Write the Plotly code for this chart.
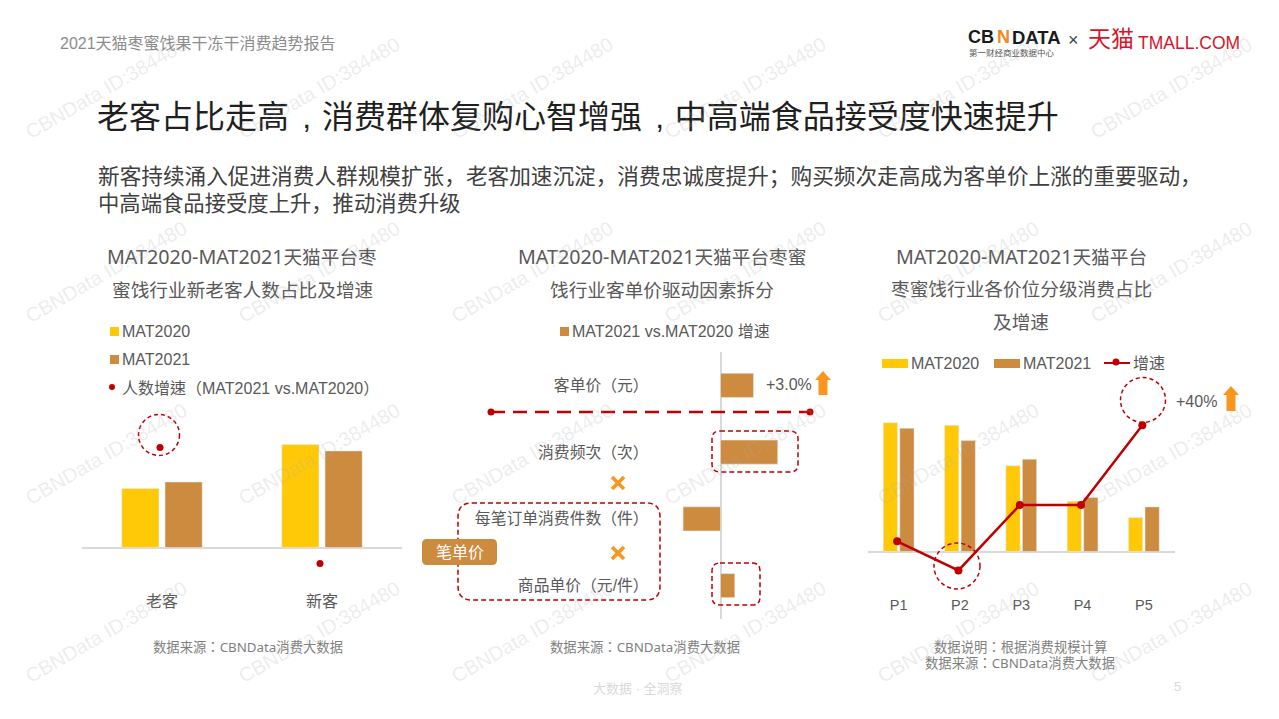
import plotly.graph_objects as go

# page offset: browser default body margin
OFF = 8
W = 1263
H = 703
CN = "Liberation Sans, Noto Sans CJK SC, sans-serif"
TC = "Liberation Sans, Noto Sans CJK TC, sans-serif"
SOFT = "Noto Sans, Noto Sans CJK SC, sans-serif"
SOFT_TC = "Noto Sans, Noto Sans CJK TC, sans-serif"
YELLOW = "#FFC907"
BROWN = "#CD8B3F"
RED = "#C00000"
ORANGE = "#F9961E"
GRAY = "#595959"

# chart 1
c1_cats = ["老客", "新客"]
c1_2020 = [36.4, 63.6]
c1_2021 = [40.4, 59.6]
c1_growth = [60, -10]

# chart 2
c2_cats = ["客单价（元）", "消费频次（次）", "每笔订单消费件数（件）", "商品单价（元/件）"]
c2_growth = [3.0, 5.2, -3.4, 1.3]

# chart 3
c3_cats = ["P1", "P2", "P3", "P4", "P5"]
c3_2020 = [30.3, 29.7, 20.2, 11.8, 8.0]
c3_2021 = [29.0, 26.1, 21.7, 12.7, 10.5]
c3_growth = [-8, -20, 7, 7, 40]

title_text = "老客占比走高\u2004\u200a,\u2004消费群体复购心智增强\u2004\u200a,\u2004中高端食品接受度快速提升"
sub_lines = ["新客持续涌入促进消费人群规模扩张，老客加速沉淀，消费忠诚度提升；购买频次走高成为客单价上涨的重要驱动，",
             "中高端食品接受度上升，推动消费升级"]


def fx(x):
    return (x - OFF) / W


def fy(y):
    return 1 - (y - OFF) / H


def yrange(top, bottom, zero, k):
    return [(zero - bottom) / k, (zero - top) / k]


def mat(s):
    # latin part of the chart titles runs a little larger than the chinese
    return f'<span style="font-size:19.7px">MAT2020-MAT2021</span>{s}'


annos = []
shapes = []


def text(x, y, s, size=16, color=GRAY, anchor="left", **kw):
    annos.append(dict(x=fx(x), y=fy(y), xref="paper", yref="paper", text=s, showarrow=False,
                      xanchor=anchor, yanchor="middle", font=dict(size=size, color=color, family=kw.pop("family", CN)),
                      borderpad=0, **kw))


def rect(x0, y0, x1, y1, color):
    shapes.append(dict(type="rect", xref="paper", yref="paper", x0=fx(x0), x1=fx(x1), y0=fy(y0), y1=fy(y1),
                       fillcolor=color, line=dict(width=0)))


def seg(x0, y0, x1, y1, color, width=2, dash="solid"):
    shapes.append(dict(type="line", xref="paper", yref="paper", x0=fx(x0), x1=fx(x1), y0=fy(y0), y1=fy(y1),
                       line=dict(color=color, width=width, dash=dash)))


def circle(cx, cy, r, fill=None, dash="solid", width=1.5):
    s = dict(type="circle", xref="paper", yref="paper", x0=fx(cx - r), x1=fx(cx + r), y0=fy(cy + r), y1=fy(cy - r),
             line=dict(color=RED, width=width, dash=dash))
    if fill:
        s["fillcolor"] = fill
        s["line"] = dict(width=0)
    shapes.append(s)


def round_box(x0, y0, x1, y1, r, fill=None):
    a0, a1 = fx(x0), fx(x1)
    b0, b1 = fy(y0), fy(y1)
    rx, ry = r / W, r / H
    p = (f"M {a0+rx} {b0} L {a1-rx} {b0} Q {a1} {b0} {a1} {b0-ry} L {a1} {b1+ry} Q {a1} {b1} {a1-rx} {b1} "
         f"L {a0+rx} {b1} Q {a0} {b1} {a0} {b1+ry} L {a0} {b0-ry} Q {a0} {b0} {a0+rx} {b0} Z")
    s = dict(type="path", xref="paper", yref="paper", path=p)
    if fill:
        s["fillcolor"] = fill
        s["line"] = dict(width=0)
    else:
        s["line"] = dict(color=RED, width=1.5, dash="5px,3px")
    shapes.append(s)


def up_arrow(cx, top, bottom, color=ORANGE):
    xs = [cx - 8, cx, cx + 8, cx + 4.5, cx + 4.5, cx - 4.5, cx - 4.5]
    ys = [top + 9, top, top + 9, top + 9, bottom, bottom, top + 9]
    p = "M " + " L ".join(f"{fx(a)} {fy(b)}" for a, b in zip(xs, ys)) + " Z"
    shapes.append(dict(type="path", xref="paper", yref="paper", path=p, fillcolor=color, line=dict(width=0)))


fig = go.Figure()

# chart 1 bars + dots
fig.add_trace(go.Bar(x=c1_cats, y=c1_2020, marker_color=YELLOW, name="MAT2020", xaxis="x", yaxis="y"))
fig.add_trace(go.Bar(x=c1_cats, y=c1_2021, marker_color=BROWN, name="MAT2021", xaxis="x", yaxis="y"))
fig.add_trace(go.Scatter(x=c1_cats, y=c1_growth, mode="markers", marker=dict(color=RED, size=7),
                         name="人数增速", xaxis="x2", yaxis="y2"))

# chart 2 bars
fig.add_trace(go.Bar(y=c2_cats, x=c2_growth, orientation="h", marker_color=BROWN, width=0.36,
                     name="增速", xaxis="x3", yaxis="y3"))

# chart 3 bars + line
fig.add_trace(go.Bar(x=c3_cats, y=c3_2020, marker_color=YELLOW, name="MAT2020", xaxis="x4", yaxis="y4"))
fig.add_trace(go.Bar(x=c3_cats, y=c3_2021, marker_color=BROWN, name="MAT2021", xaxis="x4", yaxis="y4"))
fig.add_trace(go.Scatter(x=c3_cats, y=c3_growth, mode="lines+markers", line=dict(color=RED, width=2.5),
                         marker=dict(color=RED, size=8), name="增速", xaxis="x5", yaxis="y5"))

# header
text(59, 43, "2021天猫枣蜜饯果干冻干消费趋势报告", 16, "#8C8C8C")
text(96, 117, title_text, 32, "#1F1F1F")
text(97, 176, sub_lines[0], 21.65, "#404040")
text(97, 204, sub_lines[1], 21.33, "#404040")

# logo
text(967, 37, "<b>CB</b>", 18, "#1A1A1A")
text(996, 37, "<b>N</b>", 18, "#F08A24")
text(1011, 37, "<b>DATA</b>", 18.5, "#1A1A1A")
text(968, 53, "第一财经商业数据中心", 8.5, "#555555")
text(1067, 40, "×", 18, "#444444")
text(1087, 39, "天猫", 23, "#D7142A")
text(1137, 43, "TMALL.COM", 17.5, "#D7142A")

# chart titles
text(242, 257, mat("天猫平台枣"), 18.67, GRAY, "center", family=SOFT)
text(242, 289, "蜜饯行业新老客人数占比及增速", 18.67, GRAY, "center", family=SOFT)
text(662, 257, mat("天猫平台枣蜜"), 18.67, GRAY, "center", family=SOFT)
text(662, 289, "饯行业客单价驱动因素拆分", 18.67, GRAY, "center", family=SOFT)
text(1021, 257, mat("天猫平台"), 18.67, GRAY, "center", family=SOFT)
text(1021, 288, "枣蜜饯行业各价位分级消费占比", 18.67, GRAY, "center", family=SOFT)
text(1021, 321, "及增速", 18.67, GRAY, "center", family=SOFT)

# legends
rect(110, 327, 119, 336, YELLOW)
text(120.5, 331, "MAT2020")
rect(110, 355, 119, 364, BROWN)
text(120.5, 359, "MAT2021")
circle(112, 387, 3, fill=RED)
text(120.5, 388, "人数增速（MAT2021 vs.MAT2020）\u00a0", family=TC)

rect(560, 327, 569, 336, BROWN)
text(570.5, 331, "MAT2021 vs.MAT2020 增速")

rect(882, 359, 908, 368, YELLOW)
text(909.5, 363, "MAT2020")
rect(994, 359, 1020, 368, BROWN)
text(1021.5, 363, "MAT2021")
seg(1104, 363, 1130, 363, RED, 2)
circle(1116, 362, 3.5, fill=RED)
text(1132, 363, "增速")

# chart 1 / 3 callouts
circle(159, 435, 20.5, dash="4px,3px")
circle(1143, 400, 22.5, dash="4px,3px")
circle(957, 566, 23, dash="4px,3px")
text(1175, 401, "+40%", 16)
up_arrow(1231, 386, 411)

# chart 2 callouts
seg(491, 412, 810, 412, RED, 2.5, "14px,8px")
circle(491, 412, 3.5, fill=RED)
circle(810, 412, 3.5, fill=RED)
text(765, 385, "+3.0%", 16)
up_arrow(823, 371, 395)
round_box(712, 431, 798, 472, 8)
round_box(458, 503, 660, 600, 14)
round_box(712, 563, 760, 605, 8)
round_box(422, 539, 497, 565, 5, fill=BROWN)
text(459.5, 552, "笔单价", 16, "white", "center")
for cy in [483, 553]:
    seg(612, cy - 6, 624, cy + 6, ORANGE, 3.5)
    seg(612, cy + 6, 624, cy - 6, ORANGE, 3.5)

# footers
text(248, 647, "数据来源：CBNData消费大数据", 13.33, "#7F7F7F", "center", family=SOFT_TC)
text(645, 647, "数据来源：CBNData消费大数据", 13.33, "#7F7F7F", "center", family=SOFT_TC)
text(1020, 647, "数据说明：根据消费规模计算", 13.33, "#7F7F7F", "center", family=SOFT_TC)
text(1020, 663, "数据来源：CBNData消费大数据", 13.33, "#7F7F7F", "center", family=SOFT_TC)
text(638, 688, "大数据 · 全洞察", 13, "#D9D9D9", "center")
text(1177, 686, "5", 13, "#D9D9D9", "center")

# watermark grid
for col in range(6):
    for row_y in [88, 272, 454, 632]:
        text(106 + col * 213, row_y, "CBNData ID:384480", 20, "rgba(170,170,170,0.22)", "center",
             textangle=-30, family="Liberation Sans")

hidden = dict(showgrid=False, showline=False, showticklabels=False, ticks="", zeroline=False)

fig.update_layout(
    width=W, height=H, margin=dict(l=0, r=0, t=0, b=0), autosize=False,
    paper_bgcolor="white", plot_bgcolor="rgba(0,0,0,0)", showlegend=False,
    barmode="group", bargap=0.46, bargroupgap=0.14,
    font=dict(family=CN, color=GRAY),
    annotations=annos, shapes=shapes,
    xaxis=dict(domain=[fx(82), fx(402)], anchor="y", showgrid=False, zeroline=False, showline=False, ticks="",
               tickfont=dict(size=16, color=GRAY)),
    yaxis=dict(domain=[fy(590), fy(420)], range=yrange(420, 590, 547.5, 1.62), showgrid=False, showticklabels=False,
               zeroline=True, zerolinecolor="#D9D9D9", zerolinewidth=1.5),
    xaxis2=dict(domain=[fx(80), fx(400)], anchor="y2", range=[-0.5, 1.5], **hidden),
    yaxis2=dict(overlaying="y", anchor="x2", range=yrange(420, 590, 547, 1.66), **hidden),
    xaxis3=dict(domain=[fx(654), fx(815)], anchor="y3", range=[(654 - 720.5) / 11, (815 - 720.5) / 11],
                showgrid=False, showticklabels=False, zeroline=True, zerolinecolor="#D9D9D9", zerolinewidth=1.5),
    yaxis3=dict(domain=[fy(619), fy(352)], anchor="x3", autorange="reversed", showgrid=False, zeroline=False,
                ticks="", tickfont=dict(size=15.8, color=GRAY, family=TC),
                tickmode="array", tickvals=c2_cats, ticktext=[c + "\u00a0" for c in c2_cats]),
    xaxis4=dict(domain=[fx(868), fx(1174.5)], anchor="y4", showgrid=False, zeroline=False, showline=False, ticks="",
                tickfont=dict(size=14.5, color=GRAY)),
    yaxis4=dict(domain=[fy(594), fy(380)], anchor="x4", range=yrange(380, 594, 551.5, 4.25), showgrid=False,
                showticklabels=False, zeroline=True, zerolinecolor="#D9D9D9", zerolinewidth=1.5),
    xaxis5=dict(domain=[fx(866.5), fx(1173)], anchor="y5", range=[-0.5, 4.5], **hidden),
    yaxis5=dict(overlaying="y4", anchor="x5", range=yrange(380, 594, 522, 2.42), **hidden),
)

fig.write_html("out.html")
